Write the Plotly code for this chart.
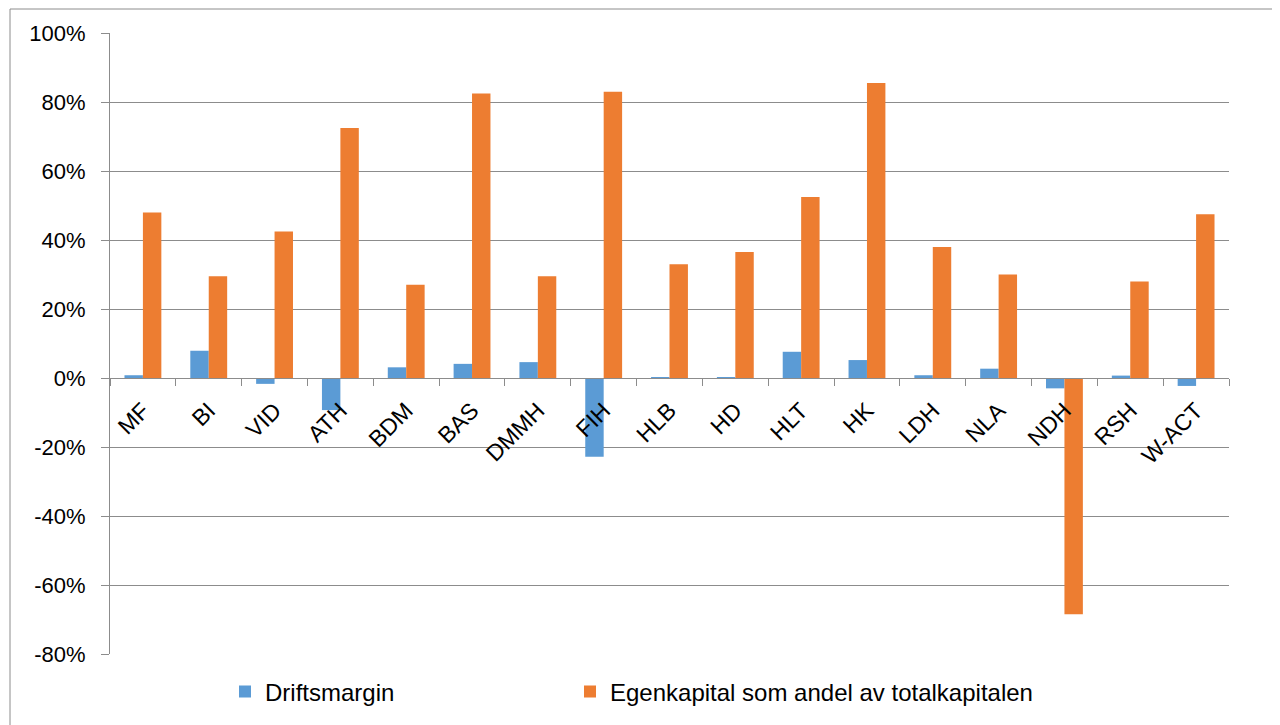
import plotly.graph_objects as go

categories = ["MF", "BI", "VID", "ATH", "BDM", "BAS", "DMMH", "FIH", "HLB", "HD",
              "HLT", "HK", "LDH", "NLA", "NDH", "RSH", "W-ACT"]
driftsmargin = [0.8, 7.9, -1.7, -9.3, 3.1, 4.1, 4.6, -22.8, 0.1, 0.1,
                7.6, 5.2, 0.8, 2.7, -3.0, 0.7, -2.3]
egenkapital = [48.0, 29.5, 42.5, 72.5, 27.0, 82.5, 29.5, 83.0, 33.0, 36.5,
               52.5, 85.5, 38.0, 30.0, -68.5, 28.0, 47.5]
y_ticks = [-80, -60, -40, -20, 0, 20, 40, 60, 80, 100]

BLUE = "#5b9bd5"
ORANGE = "#ed7d31"
GRID = "#8c8c8c"
FONT = "Liberation Sans"

fig = go.Figure()
fig.add_trace(go.Bar(x=categories, y=driftsmargin, name="Driftsmargin",
                     marker=dict(color=BLUE, line=dict(width=0)),
                     legend="legend"))
fig.add_trace(go.Bar(x=categories, y=egenkapital,
                     name="Egenkapital som andel av totalkapitalen",
                     marker=dict(color=ORANGE, line=dict(width=0)),
                     legend="legend2"))

y_min, y_max = y_ticks[0], y_ticks[-1]
zero_pos = (0 - y_min) / (y_max - y_min)

# page body adds ~8px offset, so margins are shifted to compensate
legend_style = dict(orientation="h", xref="container", yref="container",
                    xanchor="left", yanchor="middle", y=41 / 725,
                    itemwidth=30, bgcolor="rgba(0,0,0,0)",
                    font=dict(family=FONT, size=24))

fig.update_layout(
    width=1280, height=725,
    margin=dict(l=102, r=59, t=25, b=79, autoexpand=False),
    plot_bgcolor="white", paper_bgcolor="white",
    font=dict(family=FONT, size=22, color="#000000"),
    barmode="group", bargap=0.44, bargroupgap=0,
    showlegend=True,
    legend=dict(legend_style, x=217 / 1280),
    legend2=dict(legend_style, x=562 / 1280),
    xaxis=dict(anchor="free", position=zero_pos, showline=True, linecolor=GRID,
               linewidth=1, ticks="outside", tickson="boundaries", ticklen=7,
               tickcolor=GRID, tickangle=-45, showgrid=False, automargin=False,
               ticklabelstandoff=9,
               tickfont=dict(family=FONT, size=23)),
    yaxis=dict(range=[y_min, y_max], tickvals=y_ticks,
               ticktext=[f"{v}%" for v in y_ticks], showgrid=True,
               gridcolor=GRID, gridwidth=1, zeroline=False, showline=True,
               linecolor=GRID, ticks="outside", ticklen=8, tickcolor=GRID,
               automargin=False, ticklabelstandoff=11,
               tickfont=dict(family=FONT, size=22)),
    shapes=[dict(type="rect", xref="paper", yref="paper",
                 x0=(10 - 110) / 1119, x1=(1277 - 110) / 1119,
                 y0=-0.13, y1=(654 - 9) / 621,
                 line=dict(color=GRID, width=1), layer="below")],
)

fig.write_html("out.html")
